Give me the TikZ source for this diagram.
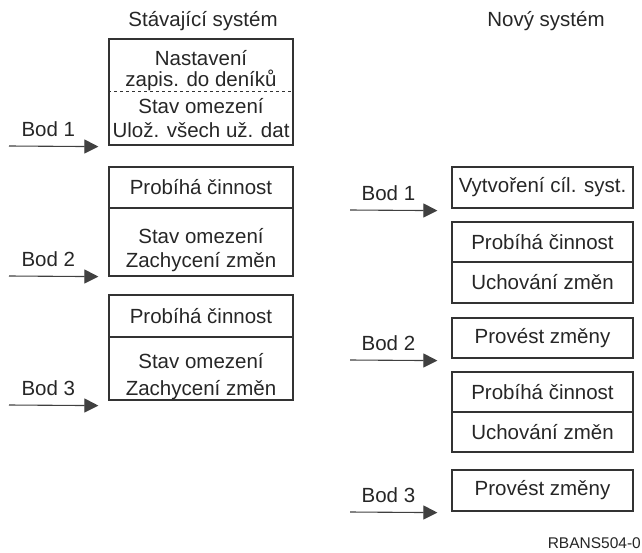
\documentclass[tikz,border=0pt]{standalone}
\usepackage{fontspec}
\setmainfont{Liberation Sans}
\usepackage{tikz}
\usetikzlibrary{arrows.meta,positioning}

\begin{document}
\begin{tikzpicture}[
    x=1pt, y=-1pt,
    every node/.style={font=\fontsize{20.5}{23}\selectfont, text=black!85},
    box/.style={rectangle, draw=black!80, line width=1.2pt, align=center, inner sep=0pt},
    oldbox/.style={box, minimum width=184pt},
    newbox/.style={box, minimum width=181pt},
    textline/.style={anchor=base, inner sep=0pt},
    bod/.style={draw=black!75, line width=1.1pt, -{Triangle[length=14pt,width=14pt]}},
    bodlabel/.style={pos=0.44, anchor=base, yshift=10pt, inner sep=0pt},
    note/.style={font=\fontsize{15.5}{18}\selectfont, inner sep=0pt}
]
\useasboundingbox (0,0) rectangle (642,552);

% Titles
\node[textline] (oldtitle) at (203,26) {Stávající systém};
\node[textline] (newtitle) at (546,26) {Nový systém};

% Existing system
\node[oldbox, minimum height=106pt] (old1) at (201,92) {};
\node[textline] (old1l1) at (201,65) {Nastavení};
\node[textline] (old1l2) at (201,86) {zapis. do deníků};
\node[textline] (old1l3) at (201,113) {Stav omezení};
\node[textline] (old1l4) at (201,137) {Ulož. všech už. dat};
\draw[dashed, line width=0.8pt, black!80] (old1.west |- 0,91) -- (old1.east |- 0,91);

\node[oldbox, minimum height=41pt] (old2a) at (201,187.5) {Probíhá činnost};
\node[oldbox, minimum height=68pt] (old2b) at (201,242) {};
\node[textline] (old2l1) at (201,243) {Stav omezení};
\node[textline] (old2l2) at (201,267) {Zachycení změn};

\node[oldbox, minimum height=42pt] (old3a) at (201,316) {Probíhá činnost};
\node[oldbox, minimum height=63pt] (old3b) at (201,368.5) {};
\node[textline] (old3l1) at (201,368) {Stav omezení};
\node[textline] (old3l2) at (201,395) {Zachycení změn};

% New system
\node[newbox, minimum height=41pt] (new1) at (542.5,187.5) {Vytvoření cíl. syst.};
\node[newbox, minimum height=40pt] (new2a) at (542.5,242) {Probíhá činnost};
\node[newbox, minimum height=41pt] (new2b) at (542.5,282.5) {Uchování změn};
\node[newbox, minimum height=40pt] (new3) at (542.5,338) {Provést změny};
\node[newbox, minimum height=40pt] (new4a) at (542.5,392) {Probíhá činnost};
\node[newbox, minimum height=40pt] (new4b) at (542.5,432) {Uchování změn};
\node[newbox, minimum height=41pt] (new5) at (542.5,490.5) {Provést změny};

% Checkpoints
\coordinate (s1) at (9,146);
\coordinate (s2) at (9,276);
\coordinate (s3) at (9,405);
\coordinate (t1) at (350,210);
\coordinate (t2) at (350,360);
\coordinate (t3) at (350,512);

\draw[bod] (s1) -- node[bodlabel] (bod1) {Bod 1} ([shift={(-10,1)}]old1.south west);
\draw[bod] (s2) -- node[bodlabel] (bod2) {Bod 2} ([shift={(-10,0)}]old2b.south west);
\draw[bod] (s3) -- node[bodlabel] (bod3) {Bod 3} ([shift={(-10,5)}]old3b.south west);
\draw[bod] (t1) -- node[bodlabel] (nbod1) {Bod 1} ([shift={(-14,2)}]new1.south west);
\draw[bod] (t2) -- node[bodlabel] (nbod2) {Bod 2} ([shift={(-14,2)}]new3.south west);
\draw[bod] (t3) -- node[bodlabel] (nbod3) {Bod 3} ([shift={(-14,1)}]new5.south west);

\node[note, anchor=east] (fig) at (641,543) {RBANS504-0};

\end{tikzpicture}
\end{document}
